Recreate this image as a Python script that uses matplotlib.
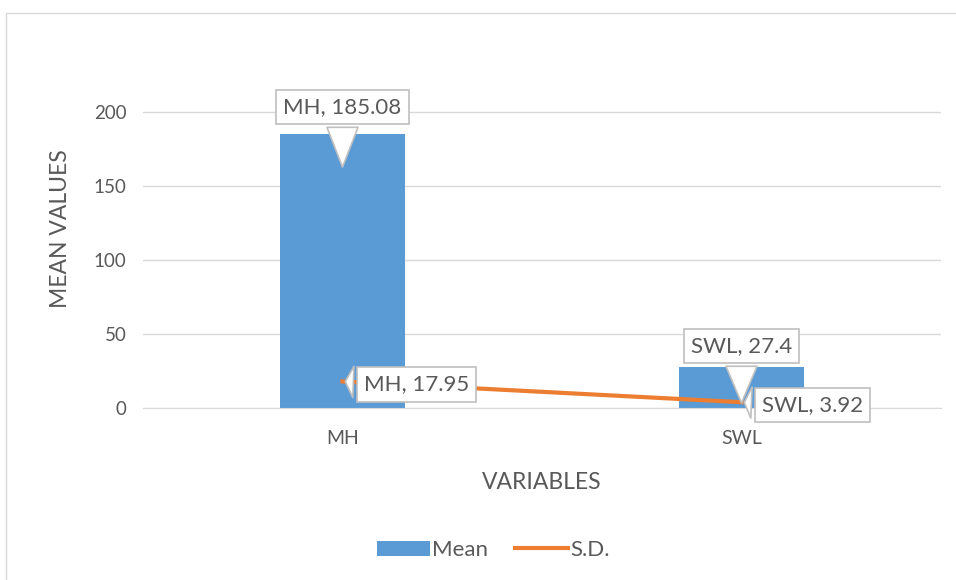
import matplotlib.pyplot as plt
from matplotlib.patches import Rectangle

# data
categories = ["MH", "SWL"]
mean_vals = [185.08, 27.4]
sd_vals = [17.95, 3.92]
mean_labels = ["MH, 185.08", "SWL, 27.4"]
sd_labels = ["MH, 17.95", "SWL, 3.92"]

plt.rcParams['font.family'] = ['Lato', 'DejaVu Sans']
txt = "#595959"

fig = plt.figure(figsize=(9.56, 5.8), dpi=100)
ax = fig.add_axes([143/956, 1-408/580, (941-143)/956, (408-50)/580])

x = range(len(categories))
bars = ax.bar(x, mean_vals, width=0.313, color="#5b9bd5", label="Mean", zorder=2)
line, = ax.plot(x, sd_vals, color="#ed7d31", lw=3, label="S.D.", zorder=3)

ax.set_xlim(-0.5, 1.5)
ax.set_ylim(0, 242)
ax.set_yticks([0, 50, 100, 150, 200])
ax.set_xticks(list(x))
ax.set_xticklabels(categories)
ax.yaxis.grid(True, color="#d9d9d9", lw=1, zorder=0)
for s in ["top", "right", "left"]:
    ax.spines[s].set_visible(False)
ax.spines["bottom"].set_color("#d9d9d9")
ax.tick_params(axis="y", length=0, labelsize=13.5, colors=txt, pad=12)
ax.tick_params(axis="x", length=0, labelsize=14, colors=txt, pad=16)
ax.set_ylabel("MEAN VALUES", fontsize=16.5, color=txt, labelpad=16)
ax.set_xlabel("VARIABLES", fontsize=16.5, color=txt, labelpad=18)

box = dict(boxstyle="square,pad=0.32", fc="white", ec="#bfbfbf", lw=1.2)
arr = dict(arrowstyle="wedge,tail_width=1.4,shrink_factor=0.5", fc="white", ec="#bfbfbf", lw=1.2)

# callouts for mean values (offsets in pixels)
mean_tips = [161, 1.5]
mean_offsets = [(0, 63), (0, 60)]
for i, lab in enumerate(mean_labels):
    dx, dy = mean_offsets[i]
    ax.annotate(lab, xy=(i, mean_tips[i]), xytext=(dx, dy), textcoords="offset pixels",
                ha="center", va="center", fontsize=16, color=txt,
                bbox=box, arrowprops=arr, zorder=5)

sd_offsets = [(74, -3), (71, -3)]
for i, (v, lab) in enumerate(zip(sd_vals, sd_labels)):
    dx, dy = sd_offsets[i]
    ax.annotate(lab, xy=(i, v), xytext=(dx, dy), textcoords="offset pixels",
                ha="center", va="center", fontsize=16, color=txt,
                bbox=box, arrowprops=arr, zorder=6)

ax.legend([bars, line], ["Mean", "S.D."], loc="center", bbox_to_anchor=(0.439, -0.397),
          ncol=2, frameon=False, fontsize=16, labelcolor=txt, handlelength=2.4,
          handletextpad=0.1, columnspacing=1.2)

fig.patches.append(Rectangle((6/956, -0.01), 1, 1 - 13/580 + 0.01, transform=fig.transFigure,
                             fill=False, ec="#d9d9d9", lw=1))

fig.savefig("out.png", dpi=100)
